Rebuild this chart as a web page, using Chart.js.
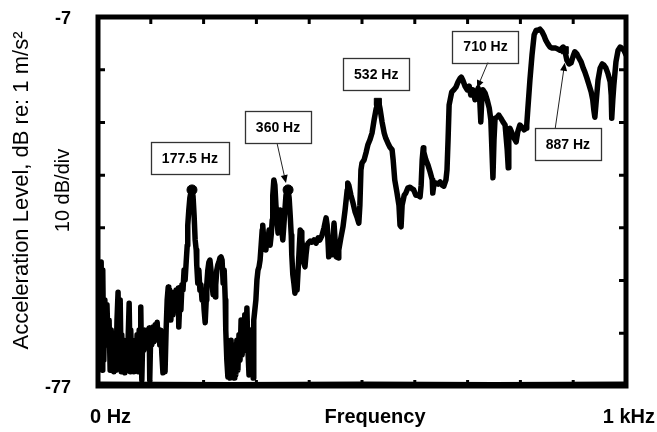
<!DOCTYPE html>
<html>
<head>
<meta charset="utf-8">
<script src="https://cdn.jsdelivr.net/npm/chart.js@4.4.1/dist/chart.umd.min.js"></script>
<style>
    html, body { margin: 0; padding: 0; background: #fff; }
    #wrap { width: 657px; height: 432px; }
</style>
</head>
<body>
<div id="wrap"><canvas id="spectrumChart" width="657" height="432"></canvas></div>
<script>
// Spectrum trace (frequency in Hz, level in dB re 1 m/s^2)
const traceHz = [
    4,6,8,9,11,13,15,17,19,21,
    23,25,27,28,30,32,34,36,38,40,
    42,44,45,47,49,51,53,55,57,59,
    61,62,64,66,68,70,72,74,76,78,
    80,81,83,85,87,89,91,93,95,97,
    98,100,102,104,106,108,110,112,114,116,
    117,119,121,123,125,127,129,131,133,134,
    136,138,140,142,144,146,148,150,152,153,
    155,157,159,161,163,165,167,169,170,172,
    174,176,178,180,182,184,186,187,189,191,
    193,195,197,199,201,203,205,206,208,210,
    212,214,216,218,220,222,223,225,227,229,
    231,233,235,237,239,241,242,244,246,248,
    250,252,254,256,258,259,261,263,265,267,
    269,271,273,275,277,278,280,282,284,286,
    288,290,292,294,295,297,299,301,303,305,
    307,309,311,312,314,316,318,320,322,324,
    326,328,330,331,333,335,337,339,341,343,
    345,347,348,350,352,354,356,358,360,362,
    364,366,367,369,371,373,375,377,379,381,
    383,385,386,388,390,392,394,396,398,
    402,405,409,413,417,420,424,428,432,434,436,437,
    439,443,447,449,451,455,456,460,464,468,472,473,475,
    479,483,487,491,494,496,498,500,504,508,511,515,519,523,527,528,530,532,534,
    538,542,545,549,553,557,559,562,566,570,572,574,576,580,583,587,591,595,598,602,606,610,
    612,614,616,617,621,625,629,633,634,636,640,644,648,652,655,659,661,663,665,667,
    670,674,678,682,686,688,691,695,699,703,706,710,714,718,720,723,725,727,729,733,737,741,744,748,750,752,
    756,759,763,767,771,775,777,778,780,784,788,792,795,799,803,807,811,812,814,818,822,826,830,833,837,
    841,845,848,852,856,860,864,867,871,
    875,881,884,888,892,896,900,903,907,911,915,919,922,926,930,934,937,939,941,943,
    947,951,955,958,962,966,970,972,973,975,977,981,985,989,992,996,1000
];
const traceDb = [
    -66.4,-53.5,-74.0,-55.0,-72.1,-60.7,-69.2,-61.6,-68.3,-64.5,
    -74.0,-66.4,-73.0,-68.3,-74.3,-69.2,-74.0,-64.5,-59.2,-72.1,
    -60.7,-74.3,-67.3,-74.0,-68.3,-74.5,-69.2,-74.0,-68.3,-61.3,
    -74.3,-66.4,-73.0,-68.3,-74.3,-69.2,-73.6,-67.3,-74.3,-66.4,
    -69.2,-62.0,-75.9,-66.4,-70.2,-66.4,-69.2,-66.4,-69.6,-66.0,
    -75.9,-66.4,-69.2,-65.8,-68.6,-65.4,-67.3,-64.9,-68.3,-66.4,
    -69.2,-66.4,-71.1,-74.5,-69.2,-74.3,-66.4,-60.7,-58.2,-62.6,
    -58.8,-64.5,-59.7,-63.5,-59.2,-62.6,-58.8,-60.7,-58.4,-65.8,
    -60.7,-62.6,-57.8,-58.8,-55.0,-56.9,-53.5,-50.3,-46.5,-43.6,
    -41.3,-40.2,-39.8,-41.0,-44.6,-49.3,-51.2,-54.0,-57.5,-55.0,
    -58.8,-57.8,-60.7,-58.8,-62.6,-65.0,-60.7,-57.8,-55.0,-53.5,
    -53.1,-55.0,-57.8,-59.7,-58.8,-60.1,-57.8,-55.0,-54.0,-53.5,
    -52.7,-52.5,-53.1,-57.5,-55.0,-60.7,-66.4,-72.1,-75.3,-70.2,
    -75.5,-68.3,-74.3,-72.1,-75.5,-69.2,-74.9,-68.3,-74.0,-67.3,
    -72.1,-64.5,-71.1,-66.4,-70.2,-63.5,-68.3,-62.2,-70.2,-74.9,
    -66.4,-72.1,-66.4,-75.5,-64.5,-62.6,-60.7,-56.9,-55.0,-54.4,
    -53.1,-50.3,-47.4,-46.5,-49.3,-48.4,-51.2,-48.4,-49.3,-47.4,
    -50.3,-48.4,-45.5,-40.8,-37.9,-38.9,-42.7,-45.5,-48.0,-44.6,
    -43.6,-45.5,-47.4,-49.3,-46.5,-43.6,-40.8,-39.8,-39.8,-41.3,
    -44.6,-48.4,-52.1,-55.9,-57.5,-59.4,-57.8,-58.8,-55.0,-51.2,
    -47.4,-47.8,-49.3,-51.2,-53.7,-54.4,-52.1,-50.3,-49.9,
    -49.5,-49.7,-49.3,-49.9,-48.9,-49.3,-48.5,-47.0,-45.1,-46.5,-50.3,-52.5,
    -51.2,-52.1,-46.1,-49.3,-52.5,-52.7,-51.2,-48.9,-46.8,-43.6,-39.8,-38.5,-38.9,
    -40.8,-42.3,-44.0,-45.1,-46.1,-42.7,-36.0,-34.7,-34.1,-32.6,-31.3,-30.3,-29.0,-26.5,-24.3,-23.3,-23.1,-23.3,-24.3,
    -26.9,-29.0,-30.0,-30.9,-31.7,-32.2,-34.1,-37.9,-40.2,-42.7,-46.5,-46.8,-42.7,-40.8,-40.4,-39.4,-39.3,-39.6,-39.8,-40.8,-40.8,-41.1,
    -38.9,-34.1,-31.8,-32.6,-34.1,-35.1,-36.4,-37.9,-40.4,-38.9,-38.5,-38.7,-38.3,-38.9,-39.1,-37.9,-36.0,-30.3,-23.7,-22.7,
    -21.2,-20.8,-20.3,-19.3,-18.6,-18.4,-19.0,-20.1,-20.8,-20.1,-21.8,-20.8,-22.7,-21.2,-20.5,-22.7,-26.9,-22.4,-20.8,-21.4,-22.7,-24.3,-26.5,-37.5,-30.3,-26.2,
    -26.0,-25.6,-26.2,-26.9,-27.5,-32.2,-35.6,-30.3,-28.1,-29.0,-30.0,-30.7,-28.8,-27.5,-27.9,-28.4,-28.1,-27.5,-24.6,-19.0,-14.2,-10.4,-9.5,-9.5,-9.3,
    -9.8,-10.6,-11.4,-12.1,-12.7,-12.9,-12.9,-12.9,-13.1,
    -13.3,-12.7,-13.3,-15.2,-15.9,-15.7,-14.4,-13.6,-14.0,-14.8,-15.5,-16.7,-17.4,-18.6,-19.9,-21.2,-22.7,-24.6,-26.0,-23.7,
    -19.0,-16.7,-15.9,-16.1,-16.7,-17.8,-19.3,-21.8,-26.2,-22.7,-19.9,-15.5,-13.3,-12.7,-12.9,-13.3,-14.2
];

// Noise floor hugging the bottom of the plot
const floorHz = [0, 250, 500, 750, 1000];
const floorDb = [-76.4, -76.5, -76.4, -76.5, -76.4];

// Marked peaks (blobs on the trace)
const peakHz = [178, 360, 530, 884];
const peakDb = [-39.8, -39.8, -23.1, -13.3];
const peakStyle = ['circle', 'circle', 'rect', 'rect'];

// Axis ticks (10 dB/div, 100 Hz/div)
const yTicks = [-77, -67, -57, -47, -37, -27, -17, -7];
const xTicks = [0, 100, 200, 300, 400, 500, 600, 700, 800, 900, 1000];
const yTickLabels = ['-77', '', '', '', '', '', '', '-7'];

// Callout boxes: label, box centre, arrow tail and tip (data units)
const callouts = [
    { text: '177.5 Hz', boxHz: 174, boxDb: -33.7 },
    { text: '360 Hz', boxHz: 341, boxDb: -27.8, tailHz: 339, tailDb: -30.9, tipHz: 356, tipDb: -38.5 },
    { text: '532 Hz', boxHz: 527, boxDb: -17.8 },
    { text: '710 Hz', boxHz: 734, boxDb: -12.6, tailHz: 739, tailDb: -15.5, tipHz: 718, tipDb: -20.5 },
    { text: '887 Hz', boxHz: 890, boxDb: -31.1, tailHz: 866, tailDb: -28.1, tipHz: 884, tipDb: -15.7 }
];

const FONT = "'Liberation Sans', Arial, sans-serif";

const toPoints = (xs, ys) => xs.map((v, i) => ({ x: v, y: ys[i] }));

const framePlugin = {
    id: 'framePlugin',
    afterDatasetsDraw(chart) {
        const { ctx, chartArea: a, scales: { x, y } } = chart;
        ctx.save();

        // inward tick marks on all four sides
        ctx.strokeStyle = '#000';
        ctx.lineWidth = 3;
        ctx.beginPath();
        xTicks.forEach(v => {
            const px = x.getPixelForValue(v);
            ctx.moveTo(px, a.top); ctx.lineTo(px, a.top + 7);
            ctx.moveTo(px, a.bottom); ctx.lineTo(px, a.bottom - 6);
        });
        yTicks.forEach(v => {
            const py = y.getPixelForValue(v);
            ctx.moveTo(a.left, py); ctx.lineTo(a.left + 7, py);
            ctx.moveTo(a.right, py); ctx.lineTo(a.right - 7, py);
        });
        ctx.stroke();

        // heavy frame
        ctx.lineWidth = 5;
        ctx.strokeRect(a.left, a.top, a.right - a.left, a.bottom - a.top);

        // callouts
        ctx.font = 'bold 14px ' + FONT;
        callouts.forEach(c => {
            if (c.tipHz !== undefined) {
                const tx = x.getPixelForValue(c.tailHz), ty = y.getPixelForValue(c.tailDb);
                const hx = x.getPixelForValue(c.tipHz), hy = y.getPixelForValue(c.tipDb);
                const ang = Math.atan2(hy - ty, hx - tx);
                ctx.strokeStyle = '#222';
                ctx.lineWidth = 1;
                ctx.beginPath();
                ctx.moveTo(tx, ty);
                ctx.lineTo(hx - 5 * Math.cos(ang), hy - 5 * Math.sin(ang));
                ctx.stroke();
                ctx.fillStyle = '#000';
                ctx.beginPath();
                ctx.moveTo(hx, hy);
                ctx.lineTo(hx - 8 * Math.cos(ang) + 3.5 * Math.sin(ang), hy - 8 * Math.sin(ang) - 3.5 * Math.cos(ang));
                ctx.lineTo(hx - 8 * Math.cos(ang) - 3.5 * Math.sin(ang), hy - 8 * Math.sin(ang) + 3.5 * Math.cos(ang));
                ctx.closePath();
                ctx.fill();
            }
            const cx = x.getPixelForValue(c.boxHz), cy = y.getPixelForValue(c.boxDb);
            const w = ctx.measureText(c.text).width + 22, h = 32;
            ctx.fillStyle = '#fff';
            ctx.fillRect(cx - w / 2, cy - h / 2, w, h);
            ctx.strokeStyle = '#333';
            ctx.lineWidth = 1.3;
            ctx.strokeRect(Math.round(cx - w / 2) + 0.5, Math.round(cy - h / 2) + 0.5, Math.round(w), h);
            ctx.fillStyle = '#000';
            ctx.textAlign = 'center';
            ctx.textBaseline = 'middle';
            ctx.fillText(c.text, cx, cy + 1);
        });
        ctx.restore();
    },
    afterDraw(chart) {
        const { ctx, chartArea: a, scales: { x, y } } = chart;
        ctx.save();
        ctx.fillStyle = '#000';

        // y tick labels
        ctx.font = 'bold 18px ' + FONT;
        ctx.textAlign = 'right';
        ctx.textBaseline = 'middle';
        yTicks.forEach((v, i) => {
            if (yTickLabels[i]) ctx.fillText(yTickLabels[i], a.left - 27, y.getPixelForValue(v) + 2);
        });

        // x labels and title
        const base = a.bottom + 37;
        ctx.font = 'bold 20px ' + FONT;
        ctx.textBaseline = 'alphabetic';
        ctx.textAlign = 'left';
        ctx.fillText('0 Hz', x.getPixelForValue(0) - 8, base);
        ctx.textAlign = 'right';
        ctx.fillText('1 kHz', x.getPixelForValue(1000) + 29, base);
        ctx.textAlign = 'center';
        ctx.fillText('Frequency', (a.left + a.right) / 2 + 13, base);

        // y title, two lines
        const midY = (a.top + a.bottom) / 2 - 11;
        ctx.textBaseline = 'middle';
        ctx.save();
        ctx.translate(22, midY);
        ctx.rotate(-Math.PI / 2);
        ctx.font = '22px ' + FONT;
        ctx.fillText('Acceleration Level, dB re: 1 m/s\u00B2', 0, 0);
        ctx.restore();
        ctx.save();
        ctx.translate(63, midY);
        ctx.rotate(-Math.PI / 2);
        ctx.font = '20px ' + FONT;
        ctx.fillText('10 dB/div', 0, 0);
        ctx.restore();

        ctx.restore();
    }
};

new Chart(document.getElementById('spectrumChart'), {
    type: 'line',
    data: {
        datasets: [
            {
                label: 'Spectrum',
                data: toPoints(traceHz, traceDb),
                borderColor: '#000',
                borderWidth: 5.5,
                borderJoinStyle: 'round',
                borderCapStyle: 'round',
                pointRadius: 0,
                tension: 0
            },
            {
                label: 'Floor',
                data: toPoints(floorHz, floorDb),
                borderColor: '#000',
                borderWidth: 2.5,
                pointRadius: 0,
                tension: 0
            },
            {
                label: 'Peaks',
                data: toPoints(peakHz, peakDb),
                showLine: false,
                pointStyle: peakStyle,
                pointRadius: 5,
                backgroundColor: '#000',
                borderColor: '#000'
            }
        ]
    },
    options: {
        responsive: false,
        animation: false,
        devicePixelRatio: 1,
        layout: {
            padding: { left: 98, right: 31, top: 17, bottom: 46 }
        },
        plugins: {
            legend: { display: false },
            tooltip: { enabled: false }
        },
        scales: {
            x: { type: 'linear', min: 0, max: 1000, display: false },
            y: { type: 'linear', min: -77, max: -7, display: false }
        }
    },
    plugins: [framePlugin]
});
</script>
</body>
</html>
